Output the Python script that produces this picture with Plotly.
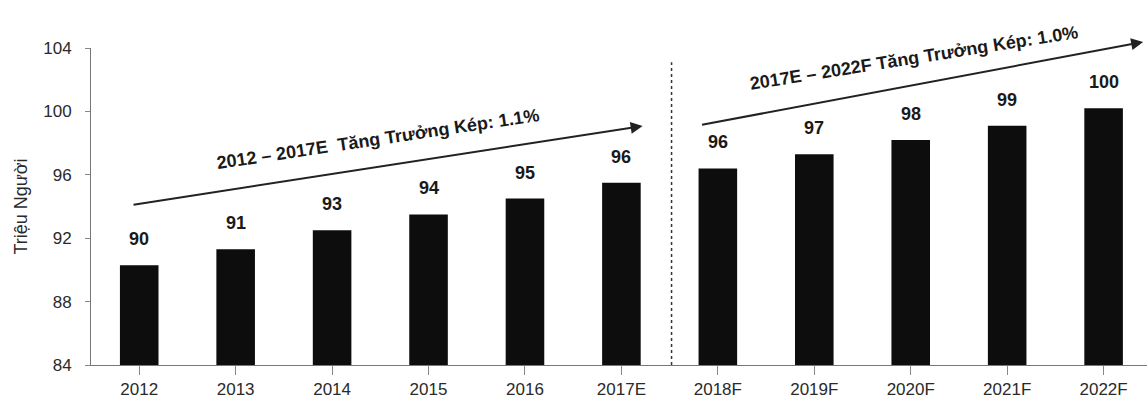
import math
import plotly.graph_objects as go

years = ["2012", "2013", "2014", "2015", "2016", "2017E",
         "2018F", "2019F", "2020F", "2021F", "2022F"]
population = [90.3, 91.3, 92.5, 93.5, 94.5, 95.5, 96.4, 97.3, 98.2, 99.1, 100.2]
y_ticks = [84, 88, 92, 96, 100, 104]

cagr_texts = ["2012 – 2017E  Tăng Trưởng Kép: 1.1%",
              "2017E – 2022F Tăng Trưởng Kép: 1.0%"]

font_main = "Liberation Sans, Arial, sans-serif"
ink = "#1a1a1a"

fig = go.Figure()
fig.add_trace(go.Bar(
    x=list(range(len(years))), y=population,
    marker=dict(color="#0d0d0d", line=dict(width=0)),
    width=0.4,
))

# value labels above each bar (rounded half up)
for i, v in enumerate(population):
    fig.add_annotation(x=i, y=v, text=f"<b>{math.floor(v + 0.5)}</b>", showarrow=False,
                       yanchor="bottom", yshift=14,
                       font=dict(family=font_main, size=18, color=ink))

# trend arrows
fig.add_annotation(x=5.22, y=99.08, ax=-0.075, ay=94.1, xref="x", yref="y",
                   axref="x", ayref="y", showarrow=True, arrowhead=2,
                   arrowsize=1.2, arrowwidth=2, arrowcolor="#222", text="")
fig.add_annotation(x=10.41, y=104.38, ax=5.82, ay=99.14, xref="x", yref="y",
                   axref="x", ayref="y", showarrow=True, arrowhead=2,
                   arrowsize=1.2, arrowwidth=2, arrowcolor="#222", text="")

fig.add_annotation(x=2.48, y=98.26, text=f"<b>{cagr_texts[0]}</b>", showarrow=False,
                   textangle=-8.5, font=dict(family=font_main, size=18, color=ink))
fig.add_annotation(x=8.03, y=103.37, text=f"<b>{cagr_texts[1]}</b>", showarrow=False,
                   textangle=-9, font=dict(family=font_main, size=18, color=ink))

# divider between estimates and forecasts
fig.add_shape(type="line", x0=5.52, x1=5.52, y0=84, y1=103.1, xref="x", yref="y",
              line=dict(color="#333", width=1.5, dash="dot"))

fig.update_layout(
    width=1147, height=404,
    margin=dict(l=91, r=0, t=48, b=39),
    paper_bgcolor="white", plot_bgcolor="white",
    showlegend=False,
    font=dict(family=font_main, size=17, color="#2a2a2a"),
    xaxis=dict(
        tickmode="array", tickvals=list(range(len(years))), ticktext=years,
        range=[-0.5, 10.45], showline=True, linecolor="#777", linewidth=1,
        ticks="outside", ticklen=9, tickcolor="#888", tickson="boundaries",
        showgrid=False, tickfont=dict(size=17, color="#2a2a2a"),
    ),
    yaxis=dict(
        range=[84, 104], tickvals=y_ticks, showline=True, linecolor="#777",
        linewidth=1, ticks="outside", ticklen=5, tickcolor="#888",
        ticklabelstandoff=10,
        showgrid=False, zeroline=False, tickfont=dict(size=17, color="#2a2a2a"),
        title=dict(text="Triệu Người", font=dict(size=18, color="#2a2a2a"), standoff=10),
    ),
)

fig.write_html("out.html")
